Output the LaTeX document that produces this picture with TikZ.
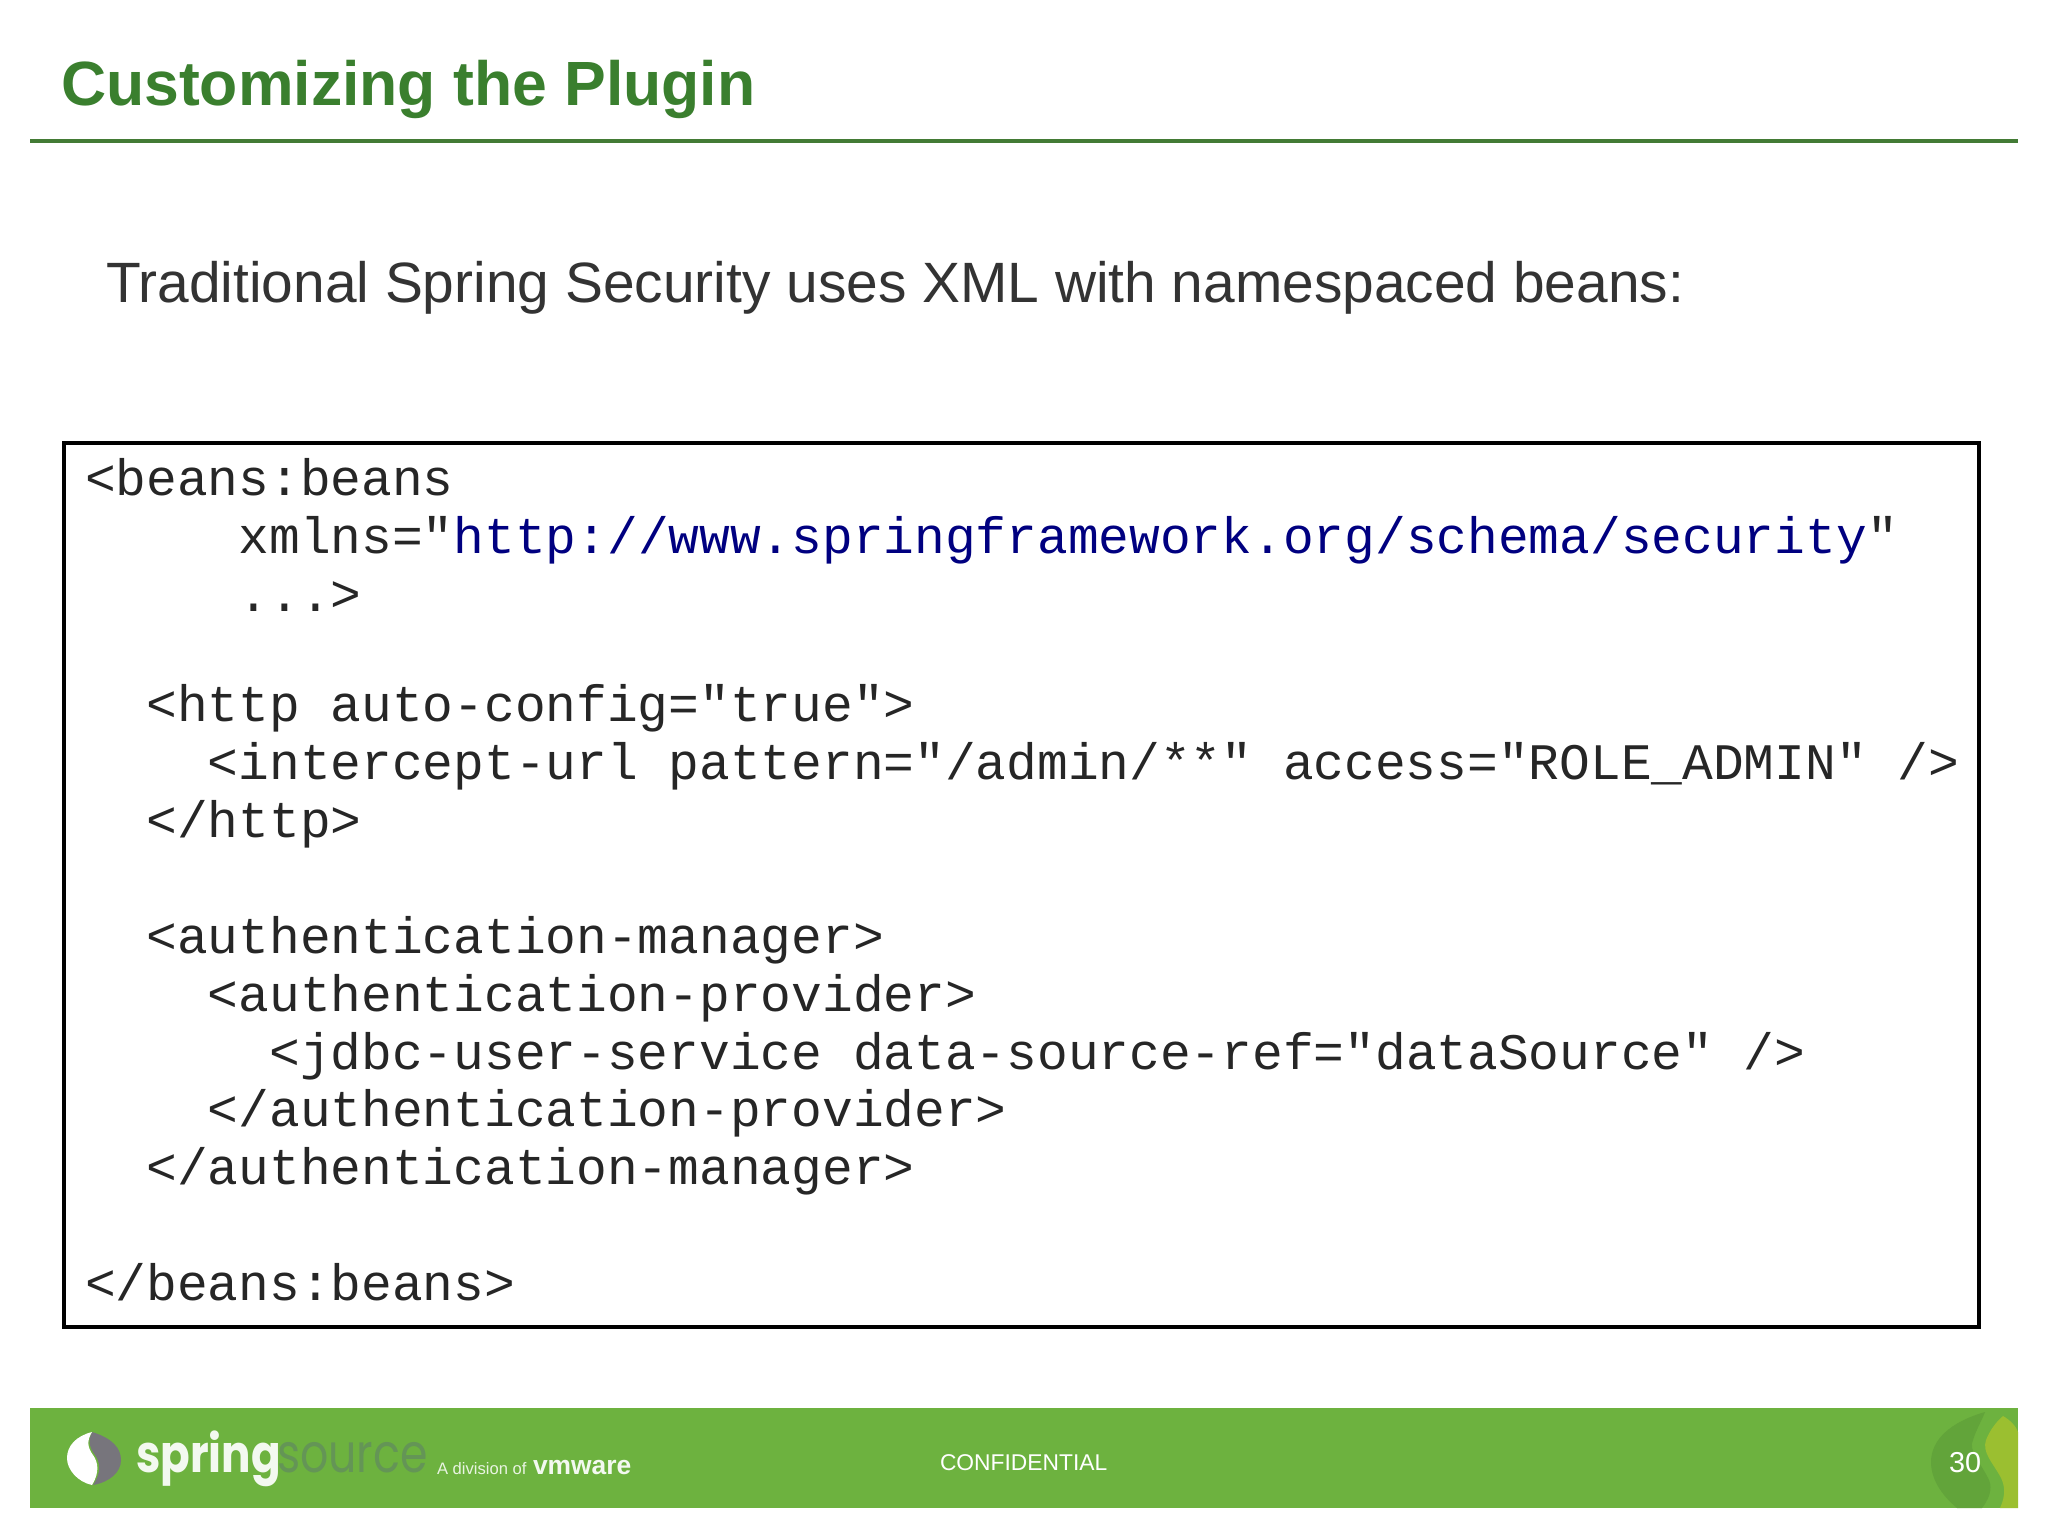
\documentclass[tikz,border=0pt]{standalone}
\usepackage{graphicx}
\usepackage{fontspec}
\setmainfont{Liberation Sans}
\newfontfamily\codefont{Liberation Mono}
\newfontfamily\logofont{Poppins}
\usetikzlibrary{positioning}
\definecolor{titlegreen}{HTML}{3A7F2E}
\definecolor{rulegreen}{HTML}{437B35}
\definecolor{bargreen}{HTML}{6DB23F}
\definecolor{bardark}{HTML}{62A43A}
\definecolor{baryellow}{HTML}{9BBF30}
\definecolor{greytext}{HTML}{333333}
\definecolor{linknavy}{HTML}{000080}
\definecolor{logogrey}{HTML}{649556}
\definecolor{leafgrey}{HTML}{77757C}

\begin{document}
\begin{tikzpicture}[x=0.5pt,y=-0.5pt,inner sep=0pt,outer sep=0pt]
  \tikzstyle{every node}=[anchor=base west]
  \tikzstyle{slidetitle}=[font=\fontsize{31.25}{36}\selectfont\bfseries,text=titlegreen]
  \tikzstyle{intro}=[font=\fontsize{28.43}{34}\selectfont,text=greytext]
  \tikzstyle{codebox}=[draw=black,line width=2pt]
  \tikzstyle{codetext}=[font=\codefont\fontsize{25.6}{28.95}\selectfont,align=left,anchor=north west,text=black!85]
  \tikzstyle{footer}=[font=\fontsize{11.4}{14}\selectfont,text=white]

  \useasboundingbox[fill=white] (0,0) rectangle (2048,1536);

  % header
  \coordinate (ruleL) at (30,141);
  \coordinate (ruleR) at (2018,141);
  \draw[rulegreen,line width=2.2pt] (ruleL) -- (ruleR);
  \node[slidetitle] (title) at (61,105) {Customizing the Plugin};
  \node[intro]      (intro) at (106,302) {Traditional Spring Security uses XML with namespaced beans:};

  % code
  \draw[codebox] (64,443) rectangle (1979,1327);
  \node[codetext] (code) at (85,458.5) {%
    <beans:beans\\
    ~~~~~xmlns="\textcolor{linknavy}{http://www.springframework.org/schema/security}"\\
    ~~~~~...>\\
    ~\\[-2.8pt]
    ~~<http auto-config="true">\\
    ~~~~<intercept-url pattern="/admin/**" access="ROLE\_ADMIN" />\\
    ~~</http>\\
    ~\\
    ~~<authentication-manager>\\
    ~~~~<authentication-provider>\\
    ~~~~~~<jdbc-user-service data-source-ref="dataSource" />\\
    ~~~~</authentication-provider>\\
    ~~</authentication-manager>\\
    ~\\
    </beans:beans>};

  % footer bar
  \fill[bargreen] (30,1408) rectangle (2018,1508);
  \fill[bardark] (1985,1412) .. controls (1950,1422) and (1931,1440) .. (1931,1462)
    .. controls (1931,1482) and (1945,1498) .. (1957,1508) -- (1982,1508)
    .. controls (1992,1495) and (1992,1485) .. (1988,1478)
    .. controls (1980,1462) and (1968,1450) .. (1973,1440)
    .. controls (1976,1430) and (1982,1420) .. (1985,1412) -- cycle;
  \fill[baryellow] (2003,1416) .. controls (2010,1420) and (2016,1426) .. (2018,1432)
    -- (2018,1508) -- (2000,1508)
    .. controls (2006,1495) and (2005,1485) .. (2000,1476)
    .. controls (1992,1462) and (1982,1452) .. (1986,1440)
    .. controls (1990,1430) and (1996,1422) .. (2003,1416) -- cycle;

  % logo
  \fill[leafgrey] (92,1432) .. controls (112,1438) and (121,1448) .. (121,1460)
    .. controls (121,1472) and (110,1482) .. (93,1485)
    .. controls (102,1472) and (100,1462) .. (95,1455)
    .. controls (89,1447) and (88,1440) .. (92,1432) -- cycle;
  \fill[white] (92,1432) .. controls (76,1436) and (67,1446) .. (67,1458)
    .. controls (67,1470) and (78,1482) .. (92,1485)
    .. controls (100,1472) and (98,1462) .. (93,1455)
    .. controls (87,1447) and (87,1440) .. (92,1432) -- cycle;
  \node[font=\logofont\fontsize{26}{28}\selectfont\bfseries,text=white!92!bargreen] (spring) at (136,1472) {\scalebox{.84}[1]{spring}};
  \node[font=\logofont\fontsize{27}{28}\selectfont,text=logogrey] (source) at (277,1472) {\scalebox{.82}[1]{source}};
  \node[font=\fontsize{8.3}{11}\selectfont,text=white!85!bargreen] (division) at (437,1474) {A division of};
  \node[font=\fontsize{13.2}{14}\selectfont\bfseries,text=white!92!bargreen] (vmware) at (533,1474) {vmware};

  \node[footer] (conf) at (940,1470) {CONFIDENTIAL};
  \node[footer,font=\fontsize{14.4}{16}\selectfont] (page) at (1949,1472) {30};
\end{tikzpicture}
\end{document}
